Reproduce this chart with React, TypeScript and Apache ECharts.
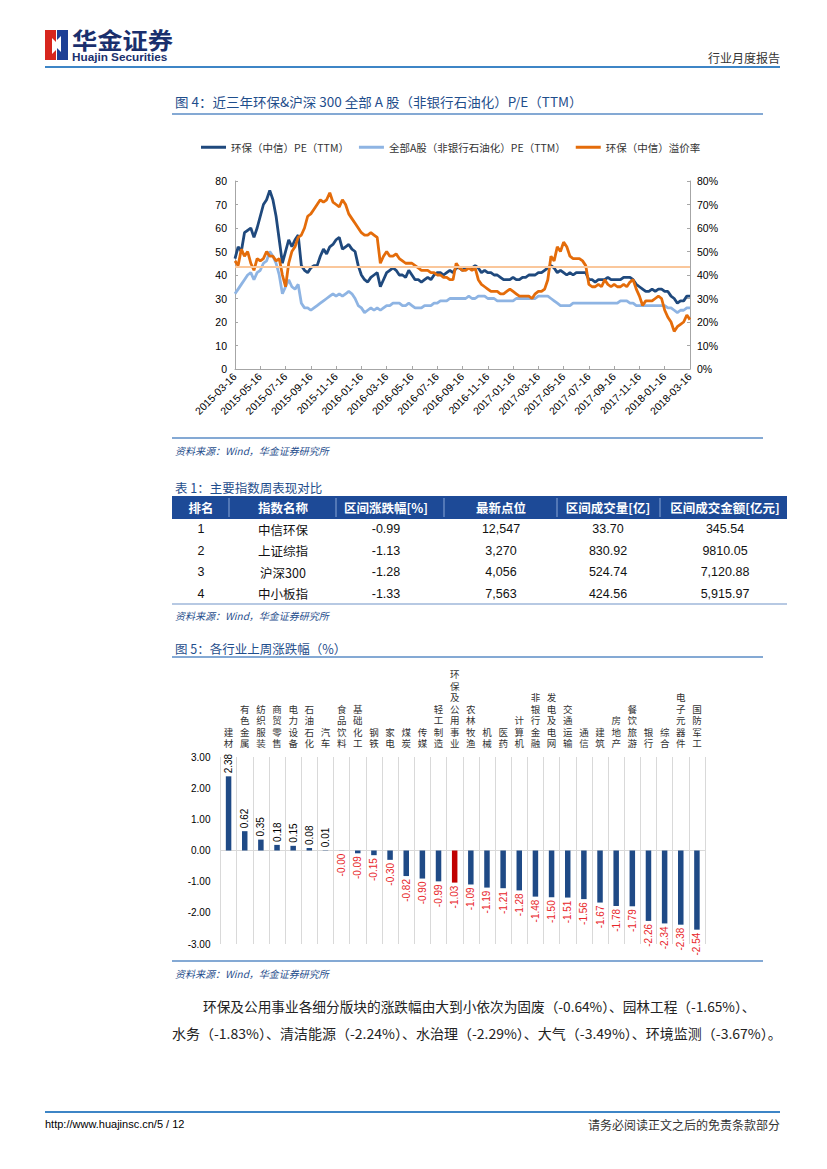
import React, { useEffect, useRef } from "react";
import * as echarts from "echarts";

const CJK = '"Noto Sans CJK SC", "Noto Sans", sans-serif';
const LAT = '"Liberation Sans", Arial, sans-serif';

// ---------- Figure 4 data ----------
// categories: 16th, 24th, 1st, 8th of each month, 2015-03-16 .. 2018-03-16
const dateCats: string[] = (() => {
  const out: string[] = [];
  let y = 2015;
  let m = 3;
  const p = (n: number) => (n < 10 ? "0" + n : "" + n);
  for (let i = 0; i < 36; i++) {
    out.push(`${y}-${p(m)}-16`, `${y}-${p(m)}-24`);
    m++;
    if (m > 12) { m = 1; y++; }
    out.push(`${y}-${p(m)}-01`, `${y}-${p(m)}-08`);
  }
  out.push("2018-03-16");
  return out;
})();

const peHuanbao = [
  47, 52, 50, 58, 59, 60, 56, 60, 65, 70,
  72, 76, 72, 65, 55, 45, 50, 55, 52, 55,
  57, 44, 42, 41, 43, 44, 44, 48, 51, 49,
  52, 53, 55, 56, 51, 52, 53, 51, 50, 44,
  40, 38, 37, 39, 40, 41, 35, 38, 41, 42,
  43, 42, 40, 40, 39, 42, 40, 38, 38, 37,
  38, 39, 38, 40, 41, 41, 40, 41, 42, 41,
  43, 43, 42, 43, 43, 43, 44, 43, 41, 42,
  41, 41, 40, 40, 39, 38, 38, 38, 39, 38,
  38, 39, 39, 40, 40, 40, 41, 41, 42, 43,
  44, 43, 41, 42, 41, 40, 41, 40, 41, 41,
  41, 41, 38, 38, 37, 38, 38, 38, 39, 38,
  38, 38, 38, 39, 39, 39, 38, 36, 35, 34,
  33, 33, 34, 33, 34, 34, 33, 33, 31, 30,
  28, 29, 29, 31, 31,
];

const peAllA = [
  32, 34, 36, 38, 40, 41, 38, 41, 42, 45,
  46, 50, 48, 45, 40, 32, 35, 38, 35, 34,
  36, 28, 26, 26, 25, 26, 27, 28, 29, 30,
  31, 32, 31, 32, 31, 32, 33, 32, 30, 27,
  26, 24, 25, 26, 25, 26, 25, 26, 27, 27,
  28, 28, 28, 27, 27, 28, 27, 26, 26, 26,
  27, 27, 27, 28, 28, 29, 29, 29, 30, 30,
  30, 30, 30, 30, 31, 30, 30, 31, 31, 31,
  30, 30, 30, 29, 29, 29, 29, 29, 29, 30,
  30, 30, 30, 30, 30, 30, 31, 31, 31, 31,
  30, 29, 28, 27, 27, 27, 27, 28, 28, 28,
  28, 28, 28, 28, 28, 28, 28, 28, 28, 28,
  28, 28, 29, 29, 29, 28, 28, 27, 27, 27,
  27, 27, 27, 27, 27, 27, 27, 26, 26, 25,
  24, 25, 25, 26, 26,
];

const premium = [
  46, 44, 51, 48, 50, 45, 42, 47, 46, 47,
  50, 48, 48, 46, 47, 40, 35, 45, 50, 52,
  56, 57, 60, 65, 66, 68, 70, 72, 71, 72,
  75, 71, 70, 69, 72, 70, 66, 64, 62, 60,
  58, 57, 57, 58, 57, 56, 45, 48, 50, 48,
  48, 49, 47, 46, 45, 45, 45, 44, 43, 42,
  42, 42, 41, 41, 40, 40, 39, 39, 38, 38,
  45, 43, 42, 42, 43, 42, 43, 38, 36, 35,
  34, 33, 33, 33, 32, 32, 33, 34, 33, 32,
  31, 31, 31, 31, 30, 32, 33, 33, 34, 38,
  48, 46, 52, 50, 54, 52, 48, 47, 47, 47,
  46, 44, 36, 35, 35, 36, 35, 38, 36, 35,
  36, 35, 35, 36, 35, 37, 38, 34, 31, 27,
  29, 29, 29, 30, 31, 30, 25, 22, 20, 16,
  18, 19, 20, 23, 21,
];
const premiumAvg = 43.6;

const seriesNames = ["环保（中信）PE（TTM）", "全部A股（非银行石油化）PE（TTM）", "环保（中信）溢价率"];

// ---------- Table 1 ----------
const tableHeaders = ["排名", "指数名称", "区间涨跌幅[%]", "最新点位", "区间成交量[亿]", "区间成交金额[亿元]"];
const tableRank = ["1", "2", "3", "4"];
const tableName = ["中信环保", "上证综指", "沪深300", "中小板指"];
const tableChg = ["-0.99", "-1.13", "-1.28", "-1.33"];
const tableLast = ["12,547", "3,270", "4,056", "7,563"];
const tableVol = ["33.70", "830.92", "524.74", "424.56"];
const tableAmt = ["345.54", "9810.05", "7,120.88", "5,915.97"];

// ---------- Figure 5 data ----------
const industries = [
  "建材", "有色金属", "纺织服装", "商贸零售", "电力设备", "石油石化", "汽车", "食品饮料",
  "基础化工", "钢铁", "家电", "煤炭", "传媒", "轻工制造", "环保及公用事业", "农林牧渔",
  "机械", "医药", "计算机", "非银行金融", "发电及电网", "交通运输", "通信", "建筑",
  "房地产", "餐饮旅游", "银行", "综合", "电子元器件", "国防军工",
];
const changes = [
  2.38, 0.62, 0.35, 0.18, 0.15, 0.08, 0.01, -0.004,
  -0.09, -0.15, -0.30, -0.82, -0.90, -0.99, -1.03, -1.09,
  -1.19, -1.21, -1.28, -1.48, -1.50, -1.51, -1.56, -1.67,
  -1.78, -1.79, -2.26, -2.34, -2.38, -2.54,
];
const highlight = "环保及公用事业";

const para1 = "环保及公用事业各细分版块的涨跌幅由大到小依次为固废（-0.64%）、园林工程（-1.65%）、";
const para2 = "水务（-1.83%）、清洁能源（-2.24%）、水治理（-2.29%）、大气（-3.49%）、环境监测（-3.67%）。";

const TITLE_BLUE = "#1f4e8c";
const RULE_BLUE = "#5b8cc6";

function txt(text: string, x: number, y: number, o: any = {}) {
  return {
    type: "text",
    x,
    y,
    silent: true,
    scaleX: o.scaleX ?? 1,
    style: {
      text,
      fill: o.fill ?? "#000",
      fontSize: o.fontSize ?? 12,
      fontFamily: o.fontFamily ?? CJK,
      fontWeight: o.fontWeight ?? "normal",
      fontStyle: o.fontStyle ?? "normal",
      align: o.align ?? "left",
      verticalAlign: o.verticalAlign ?? "middle",
    },
  };
}
function hline(x1: number, x2: number, y: number, stroke: string, w = 1) {
  return { type: "line", silent: true, shape: { x1, y1: y, x2, y2: y }, style: { stroke, lineWidth: w } };
}

export default function App() {
  const ref = useRef<HTMLDivElement>(null);
  useEffect(() => {
    if (!ref.current) return;
    const chart = echarts.init(ref.current, undefined, { renderer: "svg", width: 827, height: 1169 });

    const graphics: any[] = [];
    // header
    graphics.push({ type: "rect", silent: true, shape: { x: 45, y: 30, width: 11, height: 30 }, style: { fill: "#d7261e" } });
    graphics.push({ type: "rect", silent: true, shape: { x: 57, y: 30, width: 11, height: 30 }, style: { fill: "#1d3f95" } });
    graphics.push({ type: "polygon", silent: true, shape: { points: [[52, 38], [56, 42], [56, 50], [52, 54]] }, style: { fill: "#fff" } });
    graphics.push({ type: "polygon", silent: true, shape: { points: [[61, 36], [57, 40], [57, 48], [61, 52]] }, style: { fill: "#fff" } });
    graphics.push(txt("华金证券", 72, 39, { fontSize: 23, fontWeight: "bold", fill: "#1a2f6d", scaleX: 1.1 }));
    graphics.push(txt("Huajin Securities", 72, 57.5, { fontSize: 10.5, fontWeight: "bold", fill: "#1a2f6d", fontFamily: LAT, scaleX: 1.12 }));
    graphics.push(txt("行业月度报告", 780, 57, { fontSize: 12, fill: "#333", align: "right" }));
    graphics.push(hline(45, 780, 67, "#3d85c6", 2));

    // figure 4 title & source
    graphics.push(txt("图 4：近三年环保&沪深 300 全部 A 股（非银行石油化）P/E（TTM）", 175, 102, { fontSize: 13, fill: TITLE_BLUE, scaleX: 1.04 }));
    graphics.push(hline(172, 763, 114, RULE_BLUE, 1.5));
    graphics.push(hline(172, 763, 438, RULE_BLUE, 1.5));
    graphics.push(txt("资料来源：Wind，华金证券研究所", 175, 450, { fontSize: 10, fill: TITLE_BLUE, fontStyle: "italic" }));

    // table 1
    graphics.push(txt("表 1：主要指数周表现对比", 175, 487, { fontSize: 12.5, fill: TITLE_BLUE }));
    const colX = [201, 283, 386, 501, 608, 725];
    const colSep = [229, 336, 444, 557, 660];
    graphics.push({ type: "rect", silent: true, shape: { x: 172, y: 496, width: 615, height: 23 }, style: { fill: "#1d4a97" } });
    colSep.forEach((x) => graphics.push({ type: "line", silent: true, shape: { x1: x, y1: 498, x2: x, y2: 517 }, style: { stroke: "#8aa6d6", lineWidth: 1 } }));
    tableHeaders.forEach((h, i) => graphics.push(txt(h, colX[i], 507.5, { fontSize: 12.5, fontWeight: "bold", fill: "#fff", align: "center" })));
    const rowY = [529, 550.5, 572, 593.5];
    const cols = [tableRank, tableName, tableChg, tableLast, tableVol, tableAmt];
    cols.forEach((col, ci) =>
      col.forEach((v, ri) =>
        graphics.push(txt(v, colX[ci], rowY[ri], { fontSize: 12.5, fill: "#111", align: "center", fontFamily: ci === 1 ? CJK : LAT }))
      )
    );
    graphics.push(hline(172, 787, 604, "#9fb7da", 1.5));
    graphics.push(txt("资料来源：Wind，华金证券研究所", 175, 615, { fontSize: 10, fill: TITLE_BLUE, fontStyle: "italic" }));

    // figure 5 title & source
    graphics.push(txt("图 5：各行业上周涨跌幅（%）", 175, 648, { fontSize: 12.5, fill: TITLE_BLUE }));
    graphics.push(hline(172, 763, 657, RULE_BLUE, 1.5));
    graphics.push(hline(172, 763, 961, RULE_BLUE, 1.5));
    graphics.push(txt("资料来源：Wind，华金证券研究所", 175, 973, { fontSize: 10, fill: TITLE_BLUE, fontStyle: "italic" }));

    // paragraph
    graphics.push(txt(para1, 203, 1006, { fontSize: 13.6, fill: "#222", scaleX: 1.006 }));
    graphics.push(txt(para2, 172, 1033, { fontSize: 13.6, fill: "#222", scaleX: 1.03 }));

    // footer
    graphics.push(hline(45, 780, 1112, "#3d85c6", 2));
    graphics.push(txt("http://www.huajinsc.cn/5 / 12", 45, 1124, { fontSize: 11, fontFamily: LAT }));
    graphics.push(txt("请务必阅读正文之后的免责条款部分", 780, 1124, { fontSize: 12, fill: "#333", align: "right" }));

    const gray = "#a6a6a6";
    const barData = changes.map((v, i) => {
      const neg = v < 0;
      return {
        value: v,
        itemStyle: { color: industries[i] === highlight ? "#c00000" : "#1f4a86" },
        label: {
          show: true,
          position: neg ? "bottom" : "top",
          rotate: 90,
          align: neg ? "right" : "left",
          verticalAlign: "middle",
          distance: 3,
          color: neg ? "#e8262a" : "#000",
          fontSize: 10,
          fontFamily: LAT,
          formatter: () => v.toFixed(2),
        },
      };
    });

    chart.setOption({
      animation: false,
      backgroundColor: "#fff",
      textStyle: { fontFamily: LAT },
      legend: {
        top: 137,
        left: 196,
        icon: "rect",
        itemWidth: 25,
        itemHeight: 3,
        itemGap: 10,
        textStyle: { fontSize: 10.5, color: "#333", fontFamily: CJK },
        data: seriesNames,
      },
      grid: [
        { left: 235, top: 181, width: 455, height: 188 },
        { left: 220.5, top: 757, width: 484.5, height: 187 },
      ],
      xAxis: [
        {
          gridIndex: 0,
          type: "category",
          data: dateCats,
          boundaryGap: false,
          axisLine: { lineStyle: { color: gray } },
          axisTick: { inside: true, length: 3, interval: (i: number) => i % 8 === 0, lineStyle: { color: gray } },
          axisLabel: { interval: (i: number) => i % 8 === 0, rotate: 45, fontSize: 10.5, color: "#000", margin: 6 },
          splitLine: { show: false },
        },
        {
          gridIndex: 1,
          type: "category",
          data: industries,
          position: "top",
          axisLine: { show: false, onZero: false },
          axisTick: { show: false },
          axisLabel: {
            interval: 0,
            margin: 8,
            fontSize: 9.5,
            lineHeight: 11.5,
            color: "#333",
            fontFamily: CJK,
            formatter: (v: string) => v.split("").join("\n"),
          },
          splitLine: { show: true, interval: 0, lineStyle: { color: "#d9d9d9" } },
        },
        {
          gridIndex: 1,
          type: "category",
          data: industries,
          position: "bottom",
          axisLine: { show: true, onZero: true, lineStyle: { color: "#d9d9d9" } },
          axisTick: { show: false },
          axisLabel: { show: false },
        },
      ],
      yAxis: [
        {
          gridIndex: 0,
          type: "value",
          min: 0,
          max: 80,
          interval: 10,
          axisLine: { show: true, lineStyle: { color: gray } },
          axisTick: { show: true, inside: true, length: 3, lineStyle: { color: gray } },
          axisLabel: { fontSize: 10.5, color: "#000", margin: 8 },
          splitLine: { show: false },
        },
        {
          gridIndex: 0,
          type: "value",
          position: "right",
          min: 0,
          max: 80,
          interval: 10,
          axisLine: { show: true, lineStyle: { color: gray } },
          axisTick: { show: true, inside: true, length: 3, lineStyle: { color: gray } },
          axisLabel: { fontSize: 10.5, color: "#000", margin: 7, formatter: "{value}%" },
          splitLine: { show: false },
        },
        {
          gridIndex: 1,
          type: "value",
          min: -3,
          max: 3,
          interval: 1,
          axisLine: { show: false },
          axisTick: { show: false },
          axisLabel: { fontSize: 10, color: "#000", margin: 10, formatter: (v: number) => v.toFixed(2) },
          splitLine: { show: false },
        },
      ],
      series: [
        {
          name: seriesNames[0],
          type: "line",
          xAxisIndex: 0,
          yAxisIndex: 0,
          data: peHuanbao,
          symbol: "none",
          lineStyle: { color: "#1f497d", width: 2.8 },
          itemStyle: { color: "#1f497d" },
        },
        {
          name: seriesNames[1],
          type: "line",
          xAxisIndex: 0,
          yAxisIndex: 0,
          data: peAllA,
          symbol: "none",
          lineStyle: { color: "#8eb4e3", width: 2.8 },
          itemStyle: { color: "#8eb4e3" },
        },
        {
          name: seriesNames[2],
          type: "line",
          xAxisIndex: 0,
          yAxisIndex: 1,
          data: premium,
          symbol: "none",
          lineStyle: { color: "#e46c0a", width: 2.8 },
          itemStyle: { color: "#e46c0a" },
          markLine: {
            silent: true,
            symbol: ["none", "none"],
            label: { show: false },
            lineStyle: { color: "#fac79b", width: 2, type: "solid" },
            data: [{ yAxis: premiumAvg }],
          },
        },
        {
          name: "涨跌幅",
          type: "bar",
          xAxisIndex: 1,
          yAxisIndex: 2,
          barWidth: 5.5,
          data: barData,
        },
      ],
      graphic: graphics,
    });
    return () => chart.dispose();
  }, []);

  return (
    <div
      ref={ref}
      style={{ position: "absolute", left: 0, top: 0, width: 827, height: 1169, background: "#fff" }}
    />
  );
}
